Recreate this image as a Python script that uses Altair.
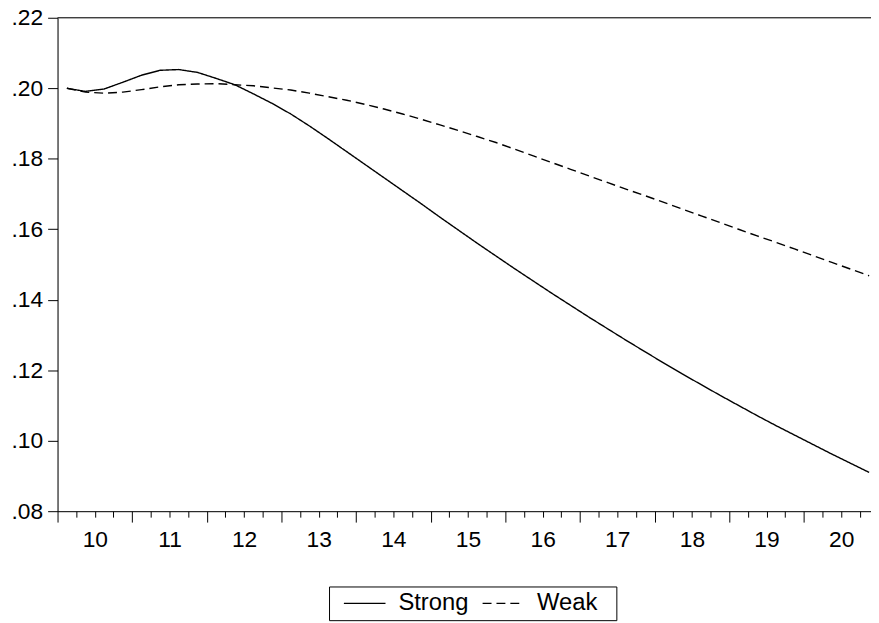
import altair as alt
import pandas as pd

years = list(range(10, 21))
quarters = [1, 2, 3, 4]

strong = [0.2000, 0.1991, 0.1998, 0.2017, 0.2037, 0.2051, 0.2053, 0.2045, 0.2028, 0.2010,
          0.1984, 0.1957, 0.1927, 0.1893, 0.1857, 0.1820, 0.1783, 0.1746, 0.1709, 0.1672,
          0.1634, 0.1597, 0.1560, 0.1524, 0.1488, 0.1453, 0.1418, 0.1384, 0.1350, 0.1317,
          0.1284, 0.1252, 0.1220, 0.1189, 0.1159, 0.1129, 0.1100, 0.1071, 0.1043, 0.1016,
          0.0989, 0.0962, 0.0936, 0.0910]
weak = [0.2000, 0.1989, 0.1986, 0.1989, 0.1996, 0.2004, 0.2010, 0.2012, 0.2013, 0.2010,
        0.2007, 0.2001, 0.1995, 0.1986, 0.1976, 0.1966, 0.1954, 0.1941, 0.1927, 0.1912,
        0.1896, 0.1880, 0.1863, 0.1846, 0.1827, 0.1808, 0.1789, 0.1770, 0.1751, 0.1732,
        0.1713, 0.1695, 0.1676, 0.1657, 0.1638, 0.1619, 0.1600, 0.1581, 0.1563, 0.1544,
        0.1525, 0.1506, 0.1487, 0.1468]

y_ticks = [0.08, 0.10, 0.12, 0.14, 0.16, 0.18, 0.20, 0.22]

# each year spans [year-0.5, year+0.5]; quarterly observations sit mid-quarter
t = [y - 0.5 + (q - 0.5) / 4 for y in years for q in quarters]
x_ticks = [years[0] - 0.5 + 0.25 * i for i in range(len(t))]

df = pd.DataFrame({
    "t": t + t,
    "value": strong + weak,
    "series": ["Strong"] * len(t) + ["Weak"] * len(t),
})

W, H = 821, 498
FONT = "Liberation Sans"
FS = 23

x_axis = alt.Axis(
    values=x_ticks, title=None, grid=False,
    domainColor="black", tickColor="black", domainWidth=1, tickWidth=1,
    tickSize={"condition": {"test": "datum.value % 1 == 0.5", "value": 11}, "value": 6},
    labelExpr="datum.value % 1 == 0 ? format(datum.value, 'd') : ''",
    labelFont=FONT, labelFontSize=FS, labelColor="black",
    labelPadding=12, labelFlush=False, labelOverlap=False,
)
y_axis = alt.Axis(
    values=y_ticks, title=None, grid=False,
    domainColor="black", tickColor="black", domainWidth=1, tickWidth=1, tickSize=10,
    labelExpr="substring(format(datum.value, '.2f'), 1)",
    labelFont=FONT, labelFontSize=FS, labelColor="black", labelPadding=5,
    labelFlush=False, labelOverlap=False,
)

lines = alt.Chart(df).mark_line(color="black", strokeWidth=1.4).encode(
    x=alt.X("t:Q", scale=alt.Scale(domain=[9.5, 20.4], nice=False, zero=False), axis=x_axis),
    y=alt.Y("value:Q", scale=alt.Scale(domain=[0.08, 0.22], nice=False, zero=False), axis=y_axis),
    strokeDash=alt.StrokeDash(
        "series:N",
        scale=alt.Scale(domain=["Strong", "Weak"], range=[[1, 0], [9, 5]]),
        legend=alt.Legend(
            title="xx", titleOrient="right", titleFontSize=10, titleColor="white",
            titlePadding=2, titleFont=FONT,
            orient="none", legendX=274, legendY=574, direction="horizontal",
            symbolType="M-2,0H2", symbolSize=441, symbolStrokeWidth=1.3,
            symbolStrokeColor="black", symbolFillColor="transparent", symbolOffset=19,
            labelFont=FONT, labelFontSize=24, labelColor="black", labelOffset=22,
            columnPadding=4, padding=5, strokeColor="black", cornerRadius=0,
        ),
    ),
)

top = alt.Chart(pd.DataFrame({"a": [0]})).mark_rule(color="black", strokeWidth=1).encode(
    x=alt.value(0), x2=alt.value(W), y=alt.value(0)
)

chart = alt.layer(lines, top).properties(
    width=W, height=H,
    autosize=alt.AutoSizeParams(type="none"),
    padding={"left": 50, "top": 7, "right": 0, "bottom": 110},
).configure_view(stroke=None).configure(background="white")

chart.save("out.html", embed_options={"renderer": "svg", "actions": False})
